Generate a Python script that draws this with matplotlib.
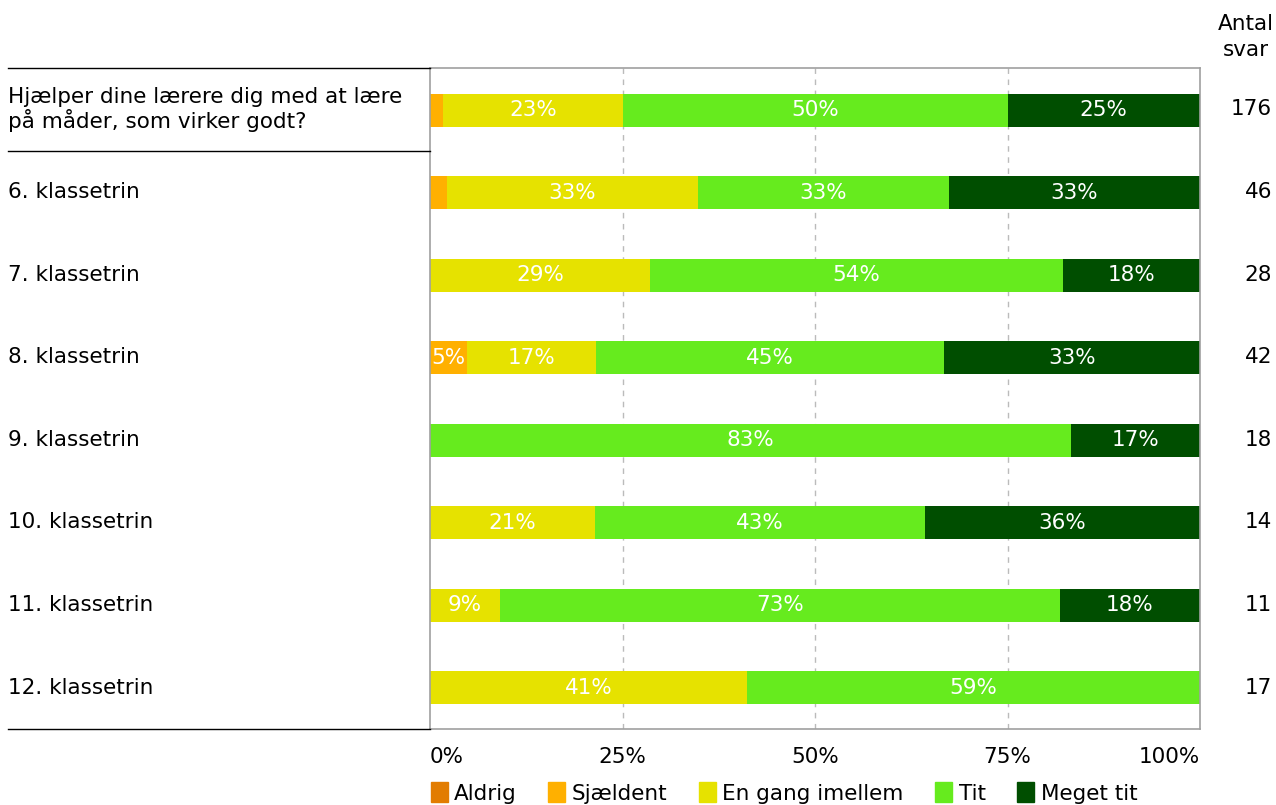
import matplotlib
matplotlib.use("Agg")
import matplotlib.pyplot as plt
from matplotlib.lines import Line2D
from matplotlib.patches import Patch

# data
questions = ["Hjælper dine lærere dig med at lære\npå måder, som virker godt?",
             "6. klassetrin", "7. klassetrin", "8. klassetrin", "9. klassetrin",
             "10. klassetrin", "11. klassetrin", "12. klassetrin"]
categories = ["Aldrig", "Sjældent", "En gang imellem", "Tit", "Meget tit"]
aldrig = [0, 0, 0, 0, 0, 0, 0, 0]
sjaeldent = [1.7, 2.2, 0, 4.8, 0, 0, 0, 0]
en_gang = [23.3, 32.6, 28.6, 16.7, 0, 21.4, 9.1, 41.2]
tit = [50.0, 32.6, 53.6, 45.2, 83.3, 42.9, 72.7, 58.8]
meget_tit = [25.0, 32.6, 17.9, 33.3, 16.7, 35.7, 18.2, 0]
antal = [176, 46, 28, 42, 18, 14, 11, 17]
colors = ["#E27C00", "#FFB000", "#E6E200", "#66EB1E", "#004E00"]

series = [aldrig, sjaeldent, en_gang, tit, meget_tit]

W, H = 1276, 805
fig = plt.figure(figsize=(W / 100, H / 100), dpi=100)
ax = fig.add_axes([430 / W, 1 - 729 / H, 770 / W, 661 / H])

fs = 15.5
ys = list(range(len(questions)))
left = [0.0] * len(questions)
for vals, col in zip(series, colors):
    ax.barh(ys, vals, left=left, height=0.4, color=col, zorder=2)
    for y, v, l in zip(ys, vals, left):
        if v >= 3:
            ax.text(l + v / 2, y, f"{v:.0f}%", ha="center", va="center",
                    color="white", fontsize=fs, zorder=3)
    left = [a + b for a, b in zip(left, vals)]

ax.set_xlim(0, 100)
ax.set_ylim(len(questions) - 0.5, -0.51)
for g in [25, 50, 75]:
    ax.axvline(g, color="#BBBBBB", linestyle=(0, (4, 4)), linewidth=1, zorder=1)
ax.set_xticks([0, 25, 50, 75, 100])
ax.set_xticklabels(["0%", "25%", "50%", "75%", "100%"], fontsize=fs)
tl = ax.get_xticklabels()
tl[0].set_ha("left")
tl[-1].set_ha("right")
ax.tick_params(axis="x", length=0, pad=13)
ax.set_yticks([])
for s in ax.spines.values():
    s.set_color("#A0A0A0")
    s.set_linewidth(1.2)

# left labels and horizontal rules
row_h = 661 / 8
for i, q in enumerate(questions):
    yc = 68 + row_h * (i + 0.5)
    fig.text(8 / W, 1 - yc / H, q, ha="left", va="center", fontsize=fs,
             linespacing=1.12)
for yl in [68, 151, 729]:
    fig.add_artist(Line2D([8 / W, 430 / W], [1 - yl / H, 1 - yl / H],
                          color="black", linewidth=1))

# counts
fig.text(1246 / W, 1 - 24 / H, "Antal", ha="center", va="center", fontsize=fs)
fig.text(1246 / W, 1 - 50 / H, "svar", ha="center", va="center", fontsize=fs)
for i, n in enumerate(antal):
    yc = 68 + row_h * (i + 0.5)
    fig.text(1272 / W, 1 - yc / H, str(n), ha="right", va="center", fontsize=fs)

handles = [Patch(color=c, label=l) for c, l in zip(colors, categories)]
fig.legend(handles=handles, loc="center left", bbox_to_anchor=(422 / W, 1 - 793 / H),
           ncol=5, frameon=False, fontsize=15.5, handlelength=0.8, handleheight=1.0,
           handletextpad=0.3, columnspacing=1.45, borderaxespad=0)

fig.savefig("out.png", dpi=100)
